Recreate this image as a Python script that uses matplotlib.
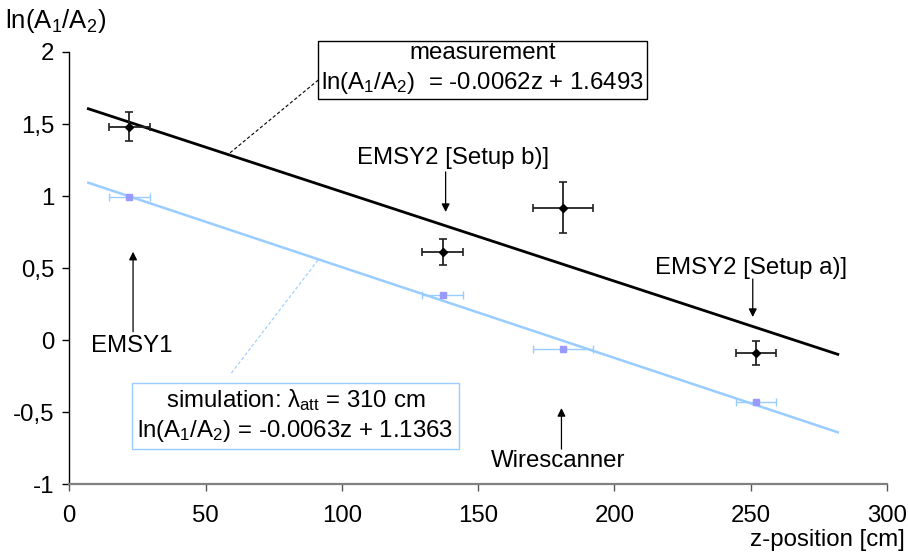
import matplotlib
matplotlib.use('Agg')
import matplotlib.pyplot as plt
import numpy as np

plt.rcParams['font.family'] = ['Liberation Sans', 'DejaVu Sans']
plt.rcParams['mathtext.fontset'] = 'custom'
plt.rcParams['mathtext.rm'] = 'Liberation Sans'
plt.rcParams['mathtext.it'] = 'Liberation Sans'

# measured points (black)
z_meas = [22, 137, 181, 252]
y_meas = [1.48, 0.61, 0.92, -0.09]
zerr_meas = [7.5, 7.5, 11, 7.5]
yerr_meas = [0.10, 0.09, 0.18, 0.085]

# simulated points (light blue)
z_sim = [22, 137, 181, 252]
y_sim = [0.99, 0.31, -0.06, -0.43]
zerr_sim = [7.5, 7.5, 11, 7.5]

# linear fits as given in the boxes
fit_meas = (-0.0062, 1.6493)
fit_sim = (-0.0063, 1.1363)
z_fit = [7, 282]

x_ticks = [0, 50, 100, 150, 200, 250, 300]
y_ticks = [-1, -0.5, 0, 0.5, 1, 1.5, 2]
y_ticklabels = ['-1', '-0,5', '0', '0,5', '1', '1,5', '2']

FS = 17.3
BLUE = '#99ccff'
PURPLE = '#9999ff'

fig = plt.figure(figsize=(9.08, 5.59), dpi=100)
ax = fig.add_axes([0.0763, 0.134, 0.9767 - 0.0763, 0.907 - 0.134])

zf = np.array(z_fit)
ax.plot(zf, fit_meas[0] * zf + fit_meas[1], color='black', lw=2.0, zorder=2)
ax.plot(zf, fit_sim[0] * zf + fit_sim[1], color=BLUE, lw=1.8, zorder=2)

ax.errorbar(z_meas, y_meas, xerr=zerr_meas, yerr=yerr_meas, fmt='D', color='black',
            ecolor='#222222', elinewidth=1.3, capsize=3, capthick=1.2, markersize=4.5, zorder=4)
ax.errorbar(z_sim, y_sim, xerr=zerr_sim, fmt='s', color=PURPLE, mec=PURPLE,
            ecolor=BLUE, elinewidth=1.0, capsize=3, capthick=1.0, markersize=5, zorder=3)

ax.set_xlim(0, 300)
ax.set_ylim(-1, 2)
ax.set_xticks(x_ticks)
ax.set_yticks(y_ticks)
ax.set_yticklabels(y_ticklabels)
ax.spines['top'].set_visible(False)
ax.spines['right'].set_visible(False)
ax.spines['left'].set_linewidth(1.0)
ax.spines['bottom'].set_color('#808080')
ax.spines['bottom'].set_linewidth(1.6)
ax.tick_params(axis='y', direction='out', length=5, width=1, labelsize=FS, pad=6)
ax.tick_params(axis='x', direction='out', length=5, width=1, color='#555555', labelsize=FS, pad=10)

# boxes with fit equations
ax.text(151.7, 1.882, 'measurement\nln(A$_1$/A$_2$)  = -0.0062z + 1.6493', ha='center', va='center',
        fontsize=FS, linespacing=1.35, zorder=5,
        bbox=dict(boxstyle='square,pad=0.12', fc='white', ec='black', lw=1))
ax.plot([59, 92.7], [1.30, 1.826], color='black', lw=0.8, ls=(0, (3, 2)), zorder=1)

ax.text(83, -0.524, 'simulation: λ$_{att}$ = 310 cm\nln(A$_1$/A$_2$) = -0.0063z + 1.1363', ha='center', va='center',
        fontsize=FS, linespacing=1.25, zorder=5,
        bbox=dict(boxstyle='square,pad=0.22', fc='white', ec=BLUE, lw=1))
ax.plot([59.5, 91.3], [-0.229, 0.556], color=BLUE, lw=0.8, ls=(0, (3, 2)), zorder=1)

# labels with arrows
arrow = dict(arrowstyle='-|>', color='black', lw=0.9, mutation_scale=12, shrinkA=0, shrinkB=0)
ax.annotate('', xy=(138.1, 0.889), xytext=(138.1, 1.167), arrowprops=arrow)
ax.text(140.7, 1.264, 'EMSY2 [Setup b)]', ha='center', va='center', fontsize=FS)
ax.annotate('', xy=(250.8, 0.16), xytext=(250.8, 0.424), arrowprops=arrow)
ax.text(250.3, 0.5, 'EMSY2 [Setup a)]', ha='center', va='center', fontsize=FS)
ax.annotate('', xy=(23.4, 0.613), xytext=(23.4, 0.058), arrowprops=arrow)
ax.text(22.8, -0.038, 'EMSY1', ha='center', va='center', fontsize=FS)
ax.annotate('', xy=(180.6, -0.472), xytext=(180.6, -0.757), arrowprops=arrow)
ax.text(179.3, -0.84, 'Wirescanner', ha='center', va='center', fontsize=FS)

fig.text(5 / 908, 1 - 21 / 559, 'ln(A$_1$/A$_2$)', ha='left', va='center', fontsize=18.5)
fig.text(905 / 908, 1 - 540 / 559, 'z-position [cm]', ha='right', va='center', fontsize=FS)

fig.savefig('out.png', dpi=100)
